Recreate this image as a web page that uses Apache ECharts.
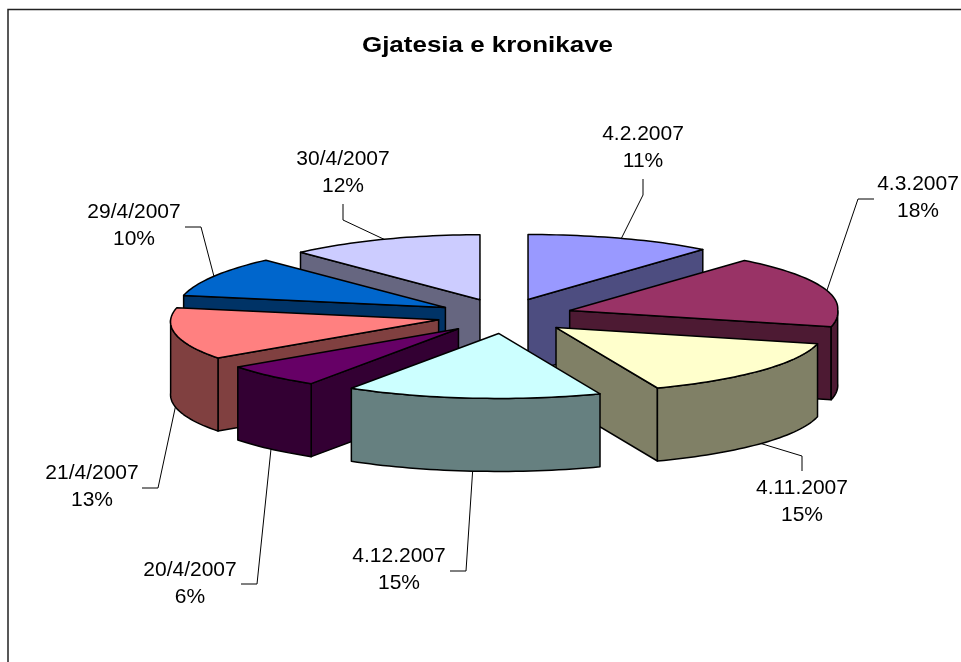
<!DOCTYPE html>
<html>
<head>
<meta charset="utf-8">
<title>Gjatesia e kronikave</title>
<script src="https://cdn.jsdelivr.net/npm/echarts@6/dist/echarts.min.js"></script>
<style>
html, body { margin: 0; padding: 0; background: #fff; }
#chart { width: 961px; height: 662px; }
</style>
</head>
<body>
<div id="chart"></div>
<script>
// data
const categories = ['4.2.2007', '4.3.2007', '4.11.2007', '4.12.2007', '20/4/2007', '21/4/2007', '29/4/2007', '30/4/2007'];
const values = [11, 18, 15, 15, 6, 13, 10, 12];
const colors = ['#9999ff', '#993366', '#ffffcc', '#ccffff', '#660066', '#ff8080', '#0066cc', '#ccccff'];
const wallColors = ['#4d4d80', '#4d1a33', '#808066', '#668080', '#330033', '#804040', '#003366', '#666680'];
const chartTitle = 'Gjatesia e kronikave';

// pie geometry
const CX = 505, CY = 316, RX = 268, RY = 65, DEPTH = 73, EXPLODE_X = 68, EXPLODE_Y = 17.5;
const BACK_SHIFT = 8, FRONT_WIDEN = 0.03; // slight perspective of the 3d pie
const FONT = '21px "Liberation Sans", Arial, sans-serif';

// label centre and leader elbow + end, one per slice
const labelLayout = [
    { x: 643, y: 134, bend: [[643, 195], [643, 179]] },
    { x: 918, y: 184, bend: [[858, 199], [874, 199]] },
    { x: 802, y: 488, bend: [[802, 456], [802, 471]] },
    { x: 399, y: 556, bend: [[466, 571], [450, 571]] },
    { x: 190, y: 570, bend: [[257, 584], [241, 584]] },
    { x: 92, y: 473, bend: [[158, 488], [142, 488]] },
    { x: 134, y: 212, bend: [[201, 227], [185, 227]] },
    { x: 343, y: 159, bend: [[343, 220], [343, 204]] }
];

const total = values.reduce((a, b) => a + b, 0);
let running = 0;
const rows = values.map((v, i) => {
    const start = running / total * 360;
    running += v;
    return [i, start, running / total * 360];
});
// back slices first
const drawOrder = rows.slice().sort((a, b) => {
    return Math.cos((b[1] + b[2]) / 360 * Math.PI) - Math.cos((a[1] + a[2]) / 360 * Math.PI);
}).map(r => r[0]);

function rim(ox, oy, deg) {
    const rad = deg * Math.PI / 180;
    const sin = Math.sin(rad), cos = Math.cos(rad);
    const dx = cos > 0 ? BACK_SHIFT * cos * Math.abs(sin) : -RX * sin * cos * FRONT_WIDEN;
    return [ox + RX * sin + dx, oy - RY * cos];
}
function arcPoints(ox, oy, from, to) {
    const pts = [];
    const n = Math.max(2, Math.ceil((to - from) / 1.5));
    for (let k = 0; k <= n; k++) pts.push(rim(ox, oy, from + (to - from) * k / n));
    return pts;
}
function down(p) { return [p[0], p[1] + DEPTH]; }

function polygon(points, fill, z2) {
    return {
        type: 'polygon',
        z2: z2,
        shape: { points: points },
        style: { fill: fill, stroke: '#000', lineWidth: 1.5, lineJoin: 'round' }
    };
}

function renderSlice(params, api) {
    const i = api.value(0), start = api.value(1), end = api.value(2);
    const mid = (start + end) / 2 * Math.PI / 180;
    const ox = CX + EXPLODE_X * Math.sin(mid);
    const oy = CY - EXPLODE_Y * Math.cos(mid);
    const apex = [ox, oy];
    const base = drawOrder.indexOf(i) * 10 + 10;
    const children = [];

    // flat side walls, only those turned towards the viewer
    [start, end].forEach((deg, k) => {
        const sin = Math.sin(deg * Math.PI / 180);
        if ((k === 0 && sin < 0) || (k === 1 && sin > 0)) {
            const p = rim(ox, oy, deg);
            children.push(polygon([apex, p, down(p), down(apex)], wallColors[i], base));
        }
    });
    // curved outer wall, front half of the ellipse only
    const a = Math.max(start, 90), b = Math.min(end, 270);
    if (b > a) {
        const top = arcPoints(ox, oy, a, b);
        children.push(polygon(top.concat(top.map(down).reverse()), wallColors[i], base + 1));
    }
    // top face
    children.push(polygon([apex].concat(arcPoints(ox, oy, start, end)), colors[i], base + 2));

    // leader line and label
    const midDeg = (start + end) / 2;
    let anchor = rim(ox, oy, midDeg);
    if (Math.cos(mid) < 0) anchor = down(anchor);
    const lay = labelLayout[i];
    children.push({
        type: 'polyline',
        z2: 200,
        shape: { points: [anchor].concat(lay.bend) },
        style: { fill: null, stroke: '#000', lineWidth: 1 }
    });
    [categories[i], values[i] + '%'].forEach((t, k) => {
        children.push({
            type: 'text',
            z2: 201,
            style: { text: t, x: lay.x, y: lay.y + k * 27, textAlign: 'center', textVerticalAlign: 'middle', font: FONT, fill: '#000' }
        });
    });
    return { type: 'group', children: children };
}

const myChart = echarts.init(document.getElementById('chart'));
myChart.setOption({
    animation: false,
    backgroundColor: '#fff',
    graphic: [{
        type: 'rect',
        z: -1,
        silent: true,
        shape: { x: 8, y: 9.5, width: 1100, height: 1000 },
        style: { fill: null, stroke: '#222', lineWidth: 1.5 }
    }, {
        // the title is set wide in the original
        type: 'text',
        silent: true,
        x: 487.5,
        y: 46,
        scaleX: 1.18,
        style: { text: chartTitle, textAlign: 'center', textVerticalAlign: 'middle', font: 'bold 22px "Liberation Sans", Arial, sans-serif', fill: '#000' }
    }],
    series: [{
        type: 'custom',
        coordinateSystem: 'none',
        silent: true,
        renderItem: renderSlice,
        data: rows
    }]
});
</script>
</body>
</html>
